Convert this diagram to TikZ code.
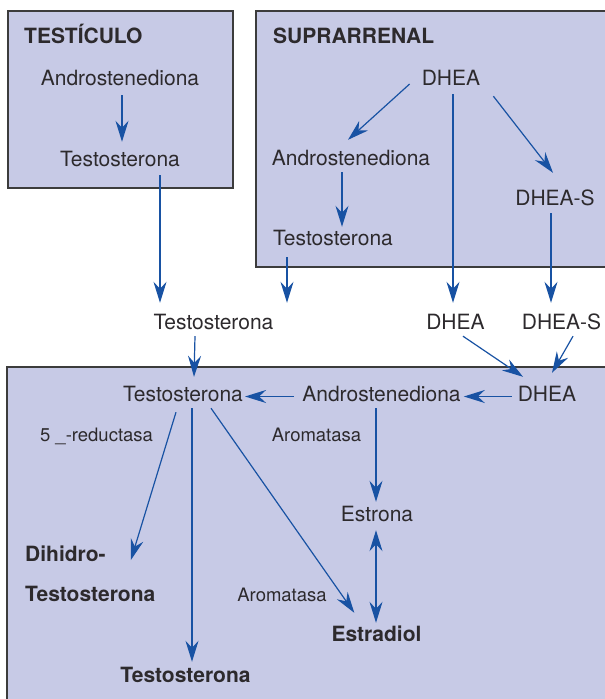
\documentclass[tikz,border=0pt]{standalone}
\usepackage{fontspec}
\setmainfont{TeX Gyre Heros}
\usetikzlibrary{arrows.meta,calc}
\definecolor{boxfill}{RGB}{199,202,230}
\definecolor{boxline}{RGB}{60,60,60}
\definecolor{arrowblue}{RGB}{24,82,163}
\definecolor{txt}{RGB}{45,42,45}
\begin{document}
\begin{tikzpicture}[x=1pt,y=-1pt,
  lbl/.style={inner sep=0pt, text height=16pt, text depth=0pt, anchor=base, text=txt, font=\fontsize{21}{25}\selectfont},
  smalllbl/.style={lbl, text height=13pt, font=\fontsize{18.5}{22}\selectfont},
  boldlbl/.style={lbl, font=\fontsize{21}{25}\selectfont\bfseries},
  arr/.style={draw=arrowblue, line width=1.2pt, -{Stealth[length=21pt,width=13pt,inset=7pt]}},
  darr/.style={draw=arrowblue, line width=1.2pt, {Stealth[length=21pt,width=13pt,inset=7pt]}-{Stealth[length=21pt,width=13pt,inset=7pt]}},
  organ/.style={draw=boxline, line width=1.5pt}]
\useasboundingbox (0,0) rectangle (605,699);
% organ boxes
\fill[boxfill] (8,11) rectangle (233,188);
\draw[organ] (8,11) rectangle (233,188);
\fill[boxfill] (256,11) rectangle (605,267);
\draw[organ] (605,11) -- (256,11) -- (256,267) -- (605,267);
\fill[boxfill] (7,367) rectangle (605,699);
\draw[organ] (7,699) -- (7,367) -- (605,367);
% Testiculo
\node[boldlbl, anchor=base west] (tTit) at (24,43) {TESTÍCULO};
\node[lbl] (tA) at (120,85) {Androstenediona};
\node[lbl] (tT) at (120,166) {Testosterona};
% Suprarrenal
\node[boldlbl, anchor=base west] (sTit) at (273,43) {SUPRARRENAL};
\node[lbl] (sD) at (451,85) {DHEA};
\node[lbl] (sA) at (351,165) {Androstenediona};
\node[lbl] (sT) at (333,245) {Testosterona};
\node[lbl] (sS) at (555,205) {DHEA-S};
% middle row
\node[lbl] (mT) at (213.5,329) {Testosterona};
\node[lbl] (mD) at (455.5,329) {DHEA};
\node[lbl] (mS) at (561.5,329) {DHEA-S};
% bottom box
\node[lbl] (bD) at (547,401) {DHEA};
\node[lbl] (bA) at (381.5,401) {Androstenediona};
\node[lbl] (bT) at (183,401) {Testosterona};
\node[smalllbl] (red) at (96.5,441) {5 \_-reductasa};
\node[smalllbl] (ar1) at (316.5,441) {Aromatasa};
\node[lbl] (eN) at (377,521) {Estrona};
\node[smalllbl] (ar2) at (282,601) {Aromatasa};
\node[boldlbl] (eD) at (376.5,641) {Estradiol};
\node[boldlbl, anchor=base west] (dh1) at (25,561) {Dihidro-};
\node[boldlbl, anchor=base west] (dh2) at (25,601) {Testosterona};
\node[boldlbl] (bTT) at (185.5,682) {Testosterona};
% arrows
\draw[arr] ($(tA.south)+(2,10)$) -- ($(tT.north)+(2,-8)$);
\draw[arr] ($(tT.south)+(40,9)$) -- ($(mT.north)+(-53.5,-10)$);
\draw[arr] ($(sT.south)+(-46,12)$) -- ($(mT.north)+(73.5,-10)$);
\draw[arr] ($(sD.south)+(2,9)$) -- ($(mD.north)+(-2.5,-10)$);
\draw[arr] ($(sS.south)+(-4,8)$) -- ($(mS.north)+(-10.5,-10)$);
\draw[arr] ($(sD.west)+(-12,7)$) -- ($(sA.north)+(-3,-9)$);
\draw[arr] ($(sD.south east)+(13,11)$) -- ($(sS.north)+(-2,-16)$);
\draw[arr] ($(sA.south)+(-9,7)$) -- ($(sT.north)+(9,-2)$);
\draw[arr] ($(mT.south)+(-18.5,7)$) -- ($(bT.north)+(11,-8)$);
\draw[arr] ($(mD.south)+(7.5,7)$) -- ($(bD.north)+(-24,-8)$);
\draw[arr] ($(mS.south)+(11.5,7)$) -- ($(bD.north)+(5,-12)$);
\draw[arr] ($(bD.west)+(-6,3.5)$) -- ($(bA.east)+(3,3.5)$);
\draw[arr] ($(bA.west)+(-8,3.5)$) -- ($(bT.east)+(2,3.5)$);
\draw[arr] ($(bA.south)+(-5.5,7)$) -- ($(eN.north)+(-1,-3)$);
\draw[darr] ($(eN.south)+(-1,9)$) -- ($(eD.north)+(-0.5,-2)$);
\draw[arr] ($(bT.south)+(-7,11)$) -- ($(dh1.base east)+(25,-1)$);
\draw[arr] ($(bT.south)+(9,7)$) -- ($(bTT.north)+(6.5,-4)$);
\draw[arr] ($(bT.south)+(28,7)$) -- ($(eD.north west)+(23,-12)$);
\end{tikzpicture}
\end{document}
